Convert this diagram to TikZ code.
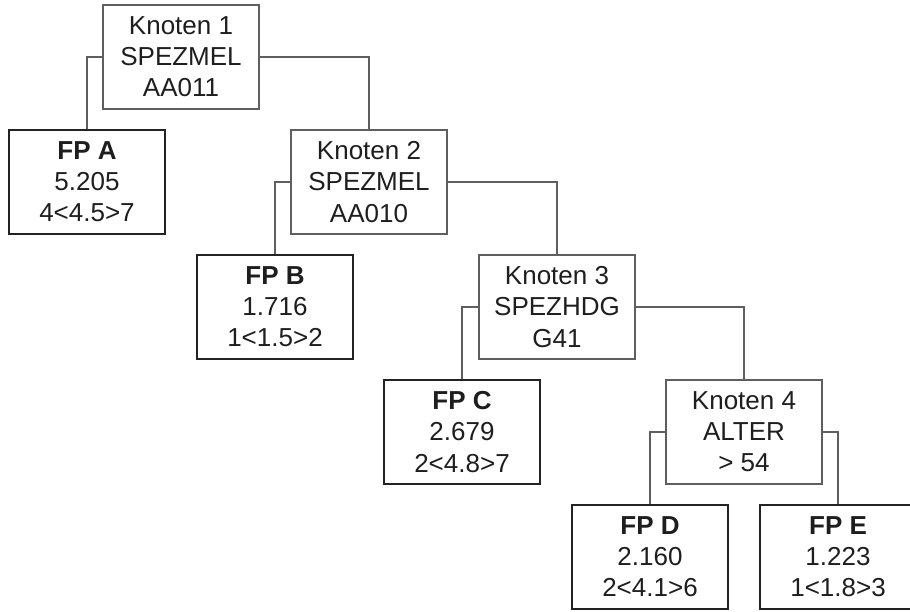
\documentclass[tikz,border=0pt]{standalone}
\usepackage{fontspec}
\setmainfont{Liberation Sans}
\definecolor{thinline}{RGB}{95,95,95}
\definecolor{thickline}{RGB}{35,35,35}
\definecolor{txt}{RGB}{30,30,30}
\begin{document}
\begin{tikzpicture}[x=0.75pt,y=-0.75pt,
  basebox/.style={rectangle, minimum width=117pt, minimum height=78pt, inner sep=0pt,
    align=center, text=txt, font=\fontsize{19.5}{23.3}\selectfont},
  splitbox/.style={basebox, draw=thinline, line width=0.8pt},
  leafbox/.style={basebox, draw=thickline, line width=2pt},
  conn/.style={draw=thinline, line width=0.8pt}]
\useasboundingbox (0,0) rectangle (910,611);
\node[splitbox] (k1) at (181,57) {Knoten 1\\SPEZMEL\\AA011};
\node[leafbox] (fpa) at (87,182) {\textbf{FP A}\\5.205\\4<4.5>7};
\node[splitbox] (k2) at (369,182) {Knoten 2\\SPEZMEL\\AA010};
\node[leafbox] (fpb) at (275,307) {\textbf{FP B}\\1.716\\1<1.5>2};
\node[splitbox] (k3) at (557,307) {Knoten 3\\SPEZHDG\\G41};
\node[leafbox] (fpc) at (462,432) {\textbf{FP C}\\2.679\\2<4.8>7};
\node[splitbox] (k4) at (744,432) {Knoten 4\\ALTER\\> 54};
\node[leafbox] (fpd) at (650,557) {\textbf{FP D}\\2.160\\2<4.1>6};
\node[leafbox] (fpe) at (838,557) {\textbf{FP E}\\1.223\\1<1.8>3};
\draw[conn] (k1.west) -| (fpa.north);
\draw[conn] (k1.east) -| (k2.north);
\draw[conn] (k2.west) -| (fpb.north);
\draw[conn] (k2.east) -| (k3.north);
\draw[conn] (k3.west) -| (fpc.north);
\draw[conn] (k3.east) -| (k4.north);
\draw[conn] (k4.west) -| (fpd.north);
\draw[conn] (k4.east) -| (fpe.north);
\end{tikzpicture}
\end{document}
